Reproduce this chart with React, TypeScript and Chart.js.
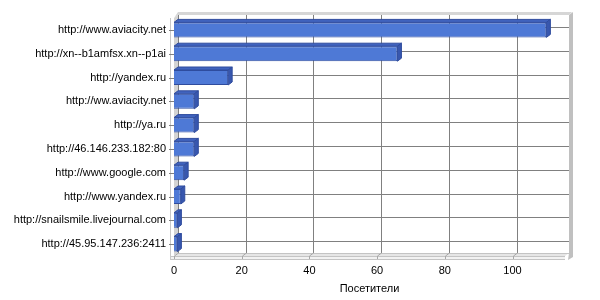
import React, { useEffect, useRef } from 'react';
import { Chart, registerables } from 'chart.js';

Chart.register(...registerables);

const categories = [
  'http://www.aviacity.net',
  'http://xn--b1amfsx.xn--p1ai',
  'http://yandex.ru',
  'http://ww.aviacity.net',
  'http://ya.ru',
  'http://46.146.233.182:80',
  'http://www.google.com',
  'http://www.yandex.ru',
  'http://snailsmile.livejournal.com',
  'http://45.95.147.236:2411',
];
const visitors = [110, 66, 16, 6, 6, 6, 3, 2, 1, 1];
const xTicks = [0, 20, 40, 60, 80, 100];
const xMax = 115.5;
const axisTitle = 'Посетители';

const DX = 4;
const DY = 3;

const FRONT = '#4E79D6';
const TOP = '#4063BE';
const SIDE = '#3857AE';
const EDGE = '#2F4C9E';

const wall3d = {
  id: 'wall3d',
  beforeDatasetsDraw(chart: any) {
    const { ctx, chartArea: a, scales } = chart;
    const x = scales.x;
    const y = scales.y;
    const L = a.left, R = a.right, T = a.top, B = a.bottom;
    ctx.save();
    // back wall thickness (top band + right band)
    ctx.fillStyle = '#d6d6d6';
    ctx.beginPath();
    ctx.moveTo(L, T);
    ctx.lineTo(L + DX, T - DY - 3);
    ctx.lineTo(R + DX + 3, T - DY - 3);
    ctx.lineTo(R + DX, T - DY);
    ctx.lineTo(L + DX, T - DY);
    ctx.closePath();
    ctx.fill();
    ctx.fillStyle = '#c0c0c0';
    ctx.beginPath();
    ctx.moveTo(R + DX, T - DY);
    ctx.lineTo(R + DX + 4, T - DY - 3);
    ctx.lineTo(R + DX + 4, B + 1);
    ctx.lineTo(R + DX - 1, B + 4);
    ctx.lineTo(R + DX, B - DY);
    ctx.closePath();
    ctx.fill();
    // back wall
    ctx.fillStyle = '#ffffff';
    ctx.fillRect(L + DX, T - DY, R - L, B - T);
    // left wall
    ctx.fillStyle = '#d4d4d4';
    ctx.beginPath();
    ctx.moveTo(L, T);
    ctx.lineTo(L + DX, T - DY);
    ctx.lineTo(L + DX, B - DY);
    ctx.lineTo(L, B);
    ctx.closePath();
    ctx.fill();
    ctx.strokeStyle = '#c8c8c8';
    ctx.lineWidth = 1;
    ctx.beginPath();
    ctx.moveTo(L - 3.5, T);
    ctx.lineTo(L - 3.5, B + 4);
    ctx.stroke();
    // floor top
    ctx.fillStyle = '#e6e6e6';
    ctx.beginPath();
    ctx.moveTo(L, B);
    ctx.lineTo(L + DX, B - DY);
    ctx.lineTo(R + DX, B - DY);
    ctx.lineTo(R, B);
    ctx.closePath();
    ctx.fill();
    // floor front edge
    ctx.fillStyle = '#f2f2f2';
    ctx.fillRect(L - 3, B, R - L + 3, 4);
    ctx.strokeStyle = '#c4c4c4';
    ctx.beginPath();
    ctx.moveTo(L - 3, B + 0.5);
    ctx.lineTo(R, B + 0.5);
    ctx.moveTo(L - 3, B + 3.5);
    ctx.lineTo(R, B + 3.5);
    ctx.moveTo(L + DX, B - DY + 0.5);
    ctx.lineTo(R + DX, B - DY + 0.5);
    ctx.stroke();
    // grid lines on back wall
    ctx.strokeStyle = '#808080';
    ctx.beginPath();
    xTicks.forEach((v) => {
      const px = Math.round(x.getPixelForValue(v)) + DX + 0.5;
      ctx.moveTo(px, T - DY);
      ctx.lineTo(px, B - DY);
    });
    categories.forEach((_, i) => {
      const py = Math.round(y.getPixelForValue(i)) - DY + 0.5;
      ctx.moveTo(L + DX, py);
      ctx.lineTo(R + DX, py);
    });
    ctx.stroke();
    // grid lines across floor
    ctx.strokeStyle = '#a8a8a8';
    ctx.beginPath();
    xTicks.forEach((v) => {
      const px = Math.round(x.getPixelForValue(v)) + 0.5;
      ctx.moveTo(px + DX, B - DY);
      ctx.lineTo(px, B);
      ctx.lineTo(px, B + 3);
    });
    ctx.stroke();
    // category tick marks
    ctx.strokeStyle = '#808080';
    ctx.beginPath();
    categories.forEach((_, i) => {
      const py = Math.round(y.getPixelForValue(i)) + 0.5;
      ctx.moveTo(L - 5, py);
      ctx.lineTo(L, py);
    });
    ctx.stroke();
    ctx.restore();
  },
  afterDatasetsDraw(chart: any) {
    const { ctx } = chart;
    const meta = chart.getDatasetMeta(0);
    ctx.save();
    ctx.lineWidth = 1;
    ctx.strokeStyle = EDGE;
    meta.data.forEach((bar: any) => {
      const p = bar.getProps(['x', 'y', 'base', 'height'], true);
      const x0 = p.base;
      const x1 = p.x;
      const top = p.y - p.height / 2;
      const bot = p.y + p.height / 2;
      ctx.fillStyle = TOP;
      ctx.beginPath();
      ctx.moveTo(x0, top);
      ctx.lineTo(x0 + DX, top - DY);
      ctx.lineTo(x1 + DX, top - DY);
      ctx.lineTo(x1, top);
      ctx.closePath();
      ctx.fill();
      ctx.stroke();
      ctx.fillStyle = SIDE;
      ctx.beginPath();
      ctx.moveTo(x1, top);
      ctx.lineTo(x1 + DX, top - DY);
      ctx.lineTo(x1 + DX, bot - DY);
      ctx.lineTo(x1, bot);
      ctx.closePath();
      ctx.fill();
      ctx.stroke();
    });
    ctx.restore();
  },
};

export default function App() {
  const ref = useRef<HTMLCanvasElement | null>(null);
  useEffect(() => {
    if (!ref.current) return;
    Chart.defaults.font.family = '"Liberation Sans", Arial, sans-serif';
    Chart.defaults.font.size = 11;
    Chart.defaults.color = '#000';
    const chart = new Chart(ref.current, {
      type: 'bar',
      data: {
        labels: categories,
        datasets: [
          {
            label: axisTitle,
            data: visitors,
            backgroundColor: FRONT,
            borderColor: EDGE,
            borderWidth: 1,
            barPercentage: 0.63,
            categoryPercentage: 1,
          },
        ],
      },
      options: {
        indexAxis: 'y',
        animation: false,
        responsive: false,
        layout: { padding: { top: 18, right: 35, left: 0, bottom: 0 } },
        plugins: { legend: { display: false }, tooltip: { enabled: false } },
        scales: {
          x: {
            min: 0,
            max: xMax,
            grid: { display: false, drawTicks: false },
            border: { display: false },
            ticks: { padding: 8, maxRotation: 0, color: '#000' },
            afterBuildTicks: (s: any) => {
              s.ticks = xTicks.map((v) => ({ value: v }));
            },
            afterFit: (s: any) => {
              s.height = 44;
            },
            title: { display: true, text: axisTitle, color: '#000', padding: { top: 0, bottom: 4 } },
          },
          y: {
            grid: { display: false, drawTicks: false },
            border: { display: false },
            ticks: { padding: 8, color: '#000', autoSkip: false },
            afterFit: (s: any) => {
              s.width = 174;
            },
          },
        },
      },
      plugins: [wall3d],
    });
    return () => chart.destroy();
  }, []);
  return (
    <div style={{ position: 'absolute', left: 0, top: 0, width: 600, height: 300, background: '#fff' }}>
      <canvas ref={ref} width={600} height={300} style={{ display: 'block' }} />
    </div>
  );
}
